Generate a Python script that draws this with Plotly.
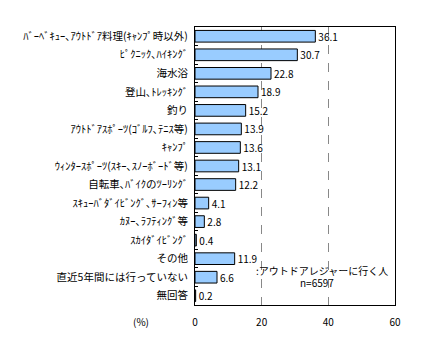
import plotly.graph_objects as go

categories = [
    "ﾊﾞｰﾍﾞｷｭｰ､ｱｳﾄﾄﾞｱ料理(ｷｬﾝﾌﾟ時以外)",
    "ﾋﾟｸﾆｯｸ､ﾊｲｷﾝｸﾞ",
    "海水浴",
    "登山､ﾄﾚｯｷﾝｸﾞ",
    "釣り",
    "ｱｳﾄﾄﾞｱｽﾎﾟｰﾂ(ｺﾞﾙﾌ､ﾃﾆｽ等)",
    "ｷｬﾝﾌﾟ",
    "ｳｨﾝﾀｰｽﾎﾟｰﾂ(ｽｷｰ､ｽﾉｰﾎﾞｰﾄﾞ等)",
    "自転車､ﾊﾞｲｸのﾂｰﾘﾝｸﾞ",
    "ｽｷｭｰﾊﾞﾀﾞｲﾋﾞﾝｸﾞ､ｻｰﾌｨﾝ等",
    "ｶﾇｰ､ﾗﾌﾃｨﾝｸﾞ等",
    "ｽｶｲﾀﾞｲﾋﾞﾝｸﾞ",
    "その他",
    "直近5年間には行っていない",
    "無回答",
]
values = [36.1, 30.7, 22.8, 18.9, 15.2, 13.9, 13.6, 13.1, 12.2, 4.1, 2.8, 0.4, 11.9, 6.6, 0.2]
x_ticks = [0, 20, 40, 60]

FONT = "Noto Sans CJK JP"

fig = go.Figure(go.Bar(
    x=values, y=categories, orientation="h",
    marker=dict(color="#99CCFF", line=dict(color="black", width=1)),
    width=0.63,
    text=[f"{v:.1f}" for v in values], textposition="outside",
    textfont=dict(family=FONT, size=10, color="black"),
    constraintext="none",
    cliponaxis=False,
))

fig.update_layout(
    width=424, height=357,
    margin=dict(l=195, r=29, t=27, b=52, autoexpand=False),
    paper_bgcolor="white", plot_bgcolor="white",
    showlegend=False,
    font=dict(family=FONT, size=10, color="black"),
    xaxis=dict(range=[0, 60], tickvals=x_ticks, showgrid=True,
               gridcolor="#888888", griddash="dash", gridwidth=1,
               showline=True, linecolor="black", linewidth=1, mirror=True,
               ticks="", ticklabelstandoff=8, zeroline=False,
               tickfont=dict(family=FONT, size=10), automargin=False),
    yaxis=dict(autorange="reversed", showline=True, linecolor="black",
               linewidth=1, mirror=True, ticks="inside", ticklen=3,
               tickcolor="black", tickson="boundaries", showgrid=False,
               tickfont=dict(family=FONT, size=10.5), automargin=False,
               ticklabelstandoff=4),
    annotations=[
        dict(text="(%)", xref="paper", yref="paper", x=-0.27, y=-0.061,
             xanchor="center", yanchor="middle", showarrow=False,
             font=dict(family=FONT, size=10)),
        dict(text=":アウトドアレジャーに行く人", xref="x", yref="y",
             x=17.7, y=12.62, xanchor="left", yanchor="middle", showarrow=False,
             font=dict(family=FONT, size=10)),
        dict(text="n=6597", xref="x", yref="y",
             x=36.5, y=13.28, xanchor="center", yanchor="middle", showarrow=False,
             font=dict(family=FONT, size=10)),
    ],
)

fig.write_html("out.html", config={"displayModeBar": False},
               post_script="document.body.style.margin='0';")
